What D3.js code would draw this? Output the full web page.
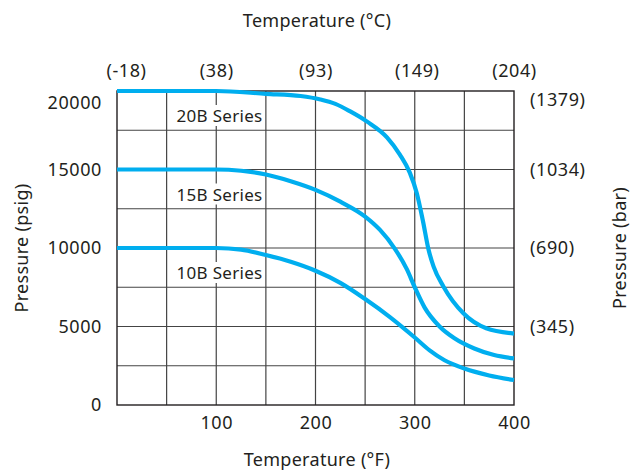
<!DOCTYPE html>
<html>
<head>
<meta charset="utf-8">
<script src="https://cdn.jsdelivr.net/npm/d3@7"></script>
<style>
  body { margin: 0; background: #fff; }
  svg text { font-family: "Noto Sans", "Open Sans", sans-serif; fill: #231f20; }
</style>
</head>
<body>
<svg id="chart" width="631" height="471"></svg>
<script>
// values
const fTicks = [100, 200, 300, 400];
const cTickPos = [0, 100, 200, 300, 400];
const cTickLabels = ["(-18)", "(38)", "(93)", "(149)", "(204)"];
const psiTicks = [0, 5000, 10000, 15000, 20000];
const barTickPos = [5000, 10000, 15000, 20000];
const barTickLabels = ["(345)", "(690)", "(1034)", "(1379)"];

const seriesNames = ["20B Series", "15B Series", "10B Series"];
const plateau = [20000, 15000, 10000];

const s20B = [[0,20000],[100,20000],[150,19820],[185,19680],[205,19460],[220,19180],[235,18700],[252,18050],[272,17050],[285,15950],[295,14800],[302,13500],[308,11800],[314,9870],[319,8810],[329,7535],[349,5840],[372,4885],[400,4550]];
const s15B = [[0,15000],[100,15000],[125,14920],[150,14680],[175,14250],[200,13700],[225,12950],[250,12000],[265,11150],[280,9950],[292,8650],[300,7500],[310,6200],[325,5000],[340,4250],[360,3600],[380,3180],[400,2970]];
const s10B = [[0,10000],[100,10000],[125,9900],[150,9550],[175,9120],[200,8550],[225,7780],[250,6750],[275,5600],[300,4300],[315,3480],[330,2850],[350,2320],[375,1880],[400,1590]];
const allSeries = [s20B, s15B, s10B];

const mLeft = 117, mRight = 514, mTop = 91, mBottom = 405;
const svg = d3.select("#chart");

const x = d3.scaleLinear().domain([0, 400]).range([mLeft, mRight]);
const y = d3.scaleLinear().domain([0, 20000]).range([mBottom, mTop]);

// grid
const grid = svg.append("g").attr("stroke", "#444").attr("stroke-width", 1.2);
grid.selectAll("line.v").data(d3.range(50, 400, 50)).join("line")
    .attr("class", "v")
    .attr("x1", d => x(d)).attr("x2", d => x(d))
    .attr("y1", mTop).attr("y2", mBottom);
grid.selectAll("line.h").data(d3.range(2500, 20000, 2500)).join("line")
    .attr("class", "h")
    .attr("x1", mLeft).attr("x2", mRight)
    .attr("y1", d => y(d)).attr("y2", d => y(d));

svg.append("rect")
    .attr("x", mLeft).attr("y", mTop)
    .attr("width", mRight - mLeft).attr("height", mBottom - mTop)
    .attr("fill", "none").attr("stroke", "#231f20").attr("stroke-width", 1.4);

// series labels with white backing
const labG = svg.append("g");
seriesNames.forEach((name, i) => {
    const g = labG.append("g");
    const t = g.append("text")
        .attr("x", x(60))
        .attr("y", y(plateau[i]) + 31)
        .attr("font-size", 17)
        .attr("letter-spacing", 0.3)
        .text(name);
    const bb = t.node().getBBox();
    g.insert("rect", "text")
        .attr("x", bb.x - 2).attr("y", bb.y + 1)
        .attr("width", bb.width + 4).attr("height", bb.height - 2)
        .attr("fill", "#fff");
});

// curves
const line = d3.line()
    .x(d => x(d[0]))
    .y(d => y(d[1]))
    .curve(d3.curveMonotoneX);

svg.append("g").selectAll("path").data(allSeries).join("path")
    .attr("d", line)
    .attr("fill", "none")
    .attr("stroke", "#00aeef")
    .attr("stroke-width", 4.2)
    .attr("stroke-linecap", "butt");

// axes (labels only)
function clean(g) {
    g.select(".domain").remove();
    g.selectAll("text").attr("font-size", 18).attr("font-family", null)
        .attr("fill", "#231f20").attr("letter-spacing", 0.6);
}

svg.append("g")
    .attr("transform", `translate(${mLeft},0)`)
    .call(d3.axisLeft(y).tickValues(psiTicks).tickSize(0).tickPadding(15).tickFormat(d3.format("d")))
    .call(clean)
    .selectAll("text").attr("dy", d => d === 20000 ? "0.95em" : "0.32em");

const barMap = new Map(barTickPos.map((v, i) => [v, barTickLabels[i]]));
svg.append("g")
    .attr("transform", `translate(${mRight},0)`)
    .call(d3.axisRight(y).tickValues(barTickPos).tickSize(0).tickPadding(16).tickFormat(d => barMap.get(d)))
    .call(clean)
    .selectAll("text").attr("dy", d => d === 20000 ? "0.8em" : "0.32em");

svg.append("g")
    .attr("transform", `translate(0,${mBottom})`)
    .call(d3.axisBottom(x).tickValues(fTicks).tickSize(0).tickPadding(11).tickFormat(d3.format("d")))
    .call(clean);

const cMap = new Map(cTickPos.map((v, i) => [v, cTickLabels[i]]));
svg.append("g")
    .attr("transform", `translate(0,${mTop})`)
    .call(d3.axisTop(x).tickValues(cTickPos).tickSize(0).tickPadding(14).tickFormat(d => cMap.get(d)))
    .call(clean)
    .selectAll("text").attr("dx", d => d === 0 ? 9 : (d === 300 ? 2 : 0));

// titles
svg.append("text")
    .attr("x", 317).attr("y", 27)
    .attr("text-anchor", "middle").attr("font-size", 18).attr("letter-spacing", 0.3)
    .text("Temperature (°C)");

svg.append("text")
    .attr("x", 317).attr("y", 466)
    .attr("text-anchor", "middle").attr("font-size", 18).attr("letter-spacing", 0.3)
    .text("Temperature (°F)");

svg.append("text")
    .attr("transform", "translate(28,248) rotate(-90)")
    .attr("text-anchor", "middle").attr("font-size", 18).attr("letter-spacing", 0.3)
    .text("Pressure (psig)");

svg.append("text")
    .attr("transform", "translate(626,248) rotate(-90)")
    .attr("text-anchor", "middle").attr("font-size", 18).attr("letter-spacing", 0.3)
    .text("Pressure (bar)");
</script>
</body>
</html>
